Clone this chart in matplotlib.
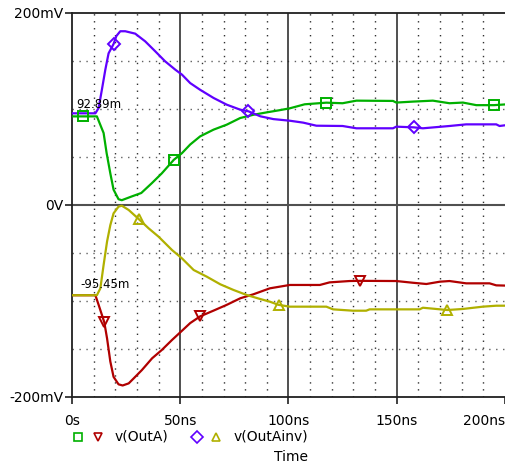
import matplotlib
matplotlib.use('Agg')
import matplotlib.pyplot as plt
import numpy as np

# time in ns, voltage in mV
t_outa_p = [0, 11.5, 14.6, 16, 17.7, 19.2, 21.5, 23, 27.7, 32, 37, 41.5, 47, 50.8, 54.6, 59.2,
            65.4, 71.5, 77.7, 83.8, 90, 96, 100.6, 107.5, 117.5, 125, 131.4, 148.3, 149.8,
            157.5, 166.7, 174.4, 180.6, 186.8, 194.9, 201]
v_outa_p = [92.3, 92.3, 75, 54, 33, 16, 6, 5, 9, 12.5, 23, 33, 47, 54, 63, 71.5,
            78.5, 83.7, 90.6, 94, 96.5, 98.8, 100.7, 104.9, 106.6, 106, 108.7, 108.4, 106.7,
            107.7, 108.7, 106, 106.7, 104, 104, 104.9]

t_outa_n = [0, 10.8, 12.3, 14.9, 16.2, 17.7, 19.2, 21.5, 23.4, 26.2, 28.5, 32.3, 37, 41.5,
            46.2, 50.8, 54.6, 59.2, 65.4, 71.5, 77.7, 83.8, 91.4, 100.6, 114.5, 119, 128.2,
            132.9, 149.8, 157.5, 163.7, 169.9, 174.4, 182.1, 192.9, 196, 201]
v_outa_n = [-94, -94, -104, -122, -139, -163, -179, -186.8, -188, -185.8, -180.6, -171.9,
            -159.7, -151, -140.6, -131, -123, -116, -110, -104, -97.2, -93, -86.8, -83.3,
            -83.3, -80.6, -79.2, -79, -79.2, -81, -82.3, -79.9, -79.2, -81.6, -81.6, -83.7, -84]

t_inv_p = [0, 10.8, 12.3, 13.8, 15.4, 16.9, 19.2, 20.5, 22.3, 24.6, 29.2, 33.8, 38.5, 43,
           47.7, 50.8, 54.6, 59.2, 65.4, 71.5, 77.7, 81.5, 87, 93, 100.6, 106.8, 112.9,
           125, 131.4, 148.3, 149.8, 157.8, 162.1, 174.4, 182.1, 196, 197.5, 201]
v_inv_p = [95.5, 95.5, 101, 120, 141, 158, 167.7, 176, 181, 181, 178.5, 170.5, 160, 149.7,
           141, 135.8, 127, 120, 111.5, 104.5, 99.3, 97.6, 92.4, 89.5, 87.8, 85.8, 82.6,
           82.3, 79.9, 79.9, 81.6, 80.9, 79.9, 82.3, 84, 84, 82.3, 83.3]

t_inv_n = [0, 11.5, 13.1, 14.6, 16.2, 17.7, 19.2, 21.5, 23, 26.2, 30.8, 35.4, 40, 46.2,
           50.8, 56.2, 62.3, 68.5, 74.6, 80.8, 86.9, 91.4, 95.4, 100.6, 117.5, 120.6,
           129.8, 135.9, 137.5, 160.6, 162.1, 173.4, 180.6, 189.8, 196, 201]
v_inv_n = [-94, -94, -86.8, -62.5, -38, -21, -8.7, -1.7, -0.7, -5.2, -14.6, -24.3, -33,
           -46.9, -55.6, -67.7, -74.7, -82.6, -88.5, -93.8, -97.9, -100.7, -104, -105.9,
           -105.9, -108.7, -110.1, -110.1, -108.7, -108.7, -107, -109.4, -108.3, -105.9,
           -104.9, -104.9]

# marker times
mk_outa_p = [5, 47, 117.5, 195]
mk_outa_n = [14.9, 59.2, 132.9]
mk_inv_p = [19.2, 81.5, 157.8]
mk_inv_n = [30.8, 95.4, 173.4]

green = '#00b000'
red = '#b00000'
purple = '#6000ff'
olive = '#b0b000'

W, H = 506, 470
fig = plt.figure(figsize=(W / 100, H / 100), dpi=100)
plt.rcParams['font.family'] = 'DejaVu Sans'
ax = fig.add_axes([72 / W, (H - 397) / H, (W - 72) / W, 384 / H])
ax.set_xlim(0, 200.5)
ax.set_ylim(-200, 200)

# dotted minor grid
for x in range(10, 201, 10):
    if x % 50:
        ax.axvline(x, color='#303030', lw=1, ls=(0, (1, 4)), zorder=1)
for y in [-150, -100, -50, 50, 100, 150]:
    ax.axhline(y, color='#606060', lw=1, ls=(0, (1, 4)), zorder=1)
# major lines
for x in [50, 100, 150]:
    ax.axvline(x, color='#202020', lw=1.1, zorder=1)
ax.axhline(0, color='#505050', lw=1.5, zorder=1)

def trace(t, v, mt, color, marker):
    ax.plot(t, v, color=color, lw=1.6, zorder=3)
    ax.plot(mt, np.interp(mt, t, v), ls='none', marker=marker, ms=6.5,
            mfc='none', mec=color, mew=1.4, zorder=4)

trace(t_outa_p, v_outa_p, mk_outa_p, green, 's')
trace(t_outa_n, v_outa_n, mk_outa_n, red, 'v')
trace(t_inv_p, v_inv_p, mk_inv_p, purple, 'D')
trace(t_inv_n, v_inv_n, mk_inv_n, olive, '^')

ax.text(2, 98, '92.89m', fontsize=8.5, va='bottom', ha='left', zorder=5)
ax.text(4, -90, '-95.45m', fontsize=8.5, va='bottom', ha='left', zorder=5)

for s in ['left', 'top', 'bottom']:
    ax.spines[s].set_color('#202020')
    ax.spines[s].set_linewidth(1.3)
ax.spines['right'].set_visible(False)

ax.set_yticks([-200, 0, 200], ['-200mV', '0V', '200mV'])
ax.set_xticks([0, 50, 100, 150, 200], ['0s', '50ns', '100ns', '150ns', '200ns'])
ax.tick_params(axis='both', length=5, width=1.2, color='#202020', labelsize=10)
ax.tick_params(axis='y', pad=1)
ax.tick_params(axis='x', pad=7)
ax.get_xticklabels()[-1].set_horizontalalignment('right')

# legend row below the axes
def fx(px):
    return px / W

def fy(py):
    return 1 - py / H

lg = [(78, 's', green), (98, 'v', red), (197, 'D', purple), (216, '^', olive)]
for px, m, c in lg:
    fig.add_artist(plt.Line2D([fx(px)], [fy(437)], marker=m, ms=6, mfc='none',
                              mec=c, mew=1.2, ls='none', transform=fig.transFigure))
fig.text(fx(115), fy(437), 'v(OutA)', fontsize=10, va='center', ha='left')
fig.text(fx(234), fy(437), 'v(OutAinv)', fontsize=10, va='center', ha='left')
fig.text(fx(291), fy(457), 'Time', fontsize=10, va='center', ha='center')

fig.savefig('out.png', dpi=100)
